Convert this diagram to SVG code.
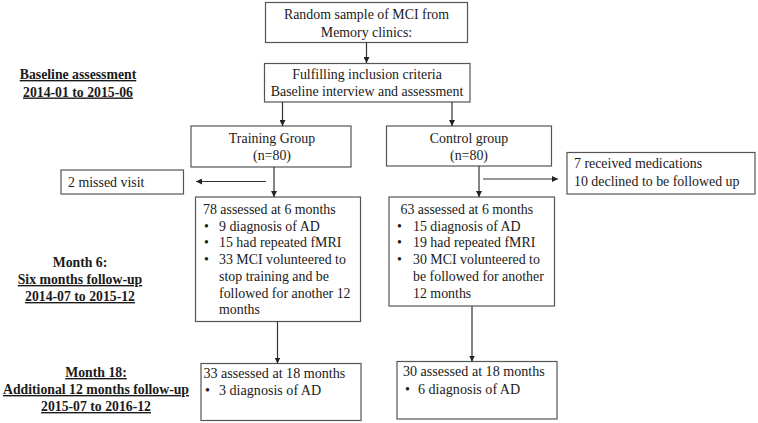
<svg xmlns="http://www.w3.org/2000/svg" width="758" height="423" viewBox="0 0 758 423" font-family="Liberation Serif, Times New Roman, serif">
<style>
  .box{fill:#fff;stroke:#555;stroke-width:1.2}
  text{font-size:13.9px;fill:#1a1a1a}
  .c{text-anchor:middle}
  .lab{font-weight:bold;font-size:13.75px;text-anchor:middle}
  .u{text-decoration:underline}
  .sm{font-size:14.1px}
  .conn line{stroke:#333;stroke-width:1.2}
</style>
<defs>
  <marker id="ah" viewBox="0 0 8 8" refX="8" refY="4" markerWidth="6" markerHeight="6" orient="auto" markerUnits="userSpaceOnUse">
    <path d="M0,0 L8,4 L0,8 Z" fill="#222"/>
  </marker>
</defs>
<rect width="758" height="423" fill="#fff"/>

<g id="label-baseline">
  <text class="lab u" x="78" y="79">Baseline assessment</text>
  <text class="lab u" x="78" y="96.5">2014-01 to 2015-06</text>
</g>
<g id="label-month6">
  <text class="lab" x="80" y="267">Month 6:</text>
  <text class="lab u" x="80" y="284">Six months follow-up</text>
  <text class="lab u" x="80" y="301">2014-07 to 2015-12</text>
</g>
<g id="label-month18">
  <text class="lab u" x="96" y="377">Month 18:</text>
  <text class="lab u" x="96" y="394">Additional 12 months follow-up</text>
  <text class="lab u" x="96" y="411">2015-07 to 2016-12</text>
</g>

<g id="n-random">
  <rect class="box" x="265.5" y="2.5" width="202" height="40"/>
  <text class="c" x="366.5" y="18.5">Random sample of MCI from</text>
  <text class="c" x="366.5" y="36.5">Memory clinics:</text>
</g>
<g id="n-inclusion">
  <rect class="box" x="264.5" y="63.5" width="205.5" height="38.5"/>
  <text class="c" x="367" y="78.5">Fulfilling inclusion criteria</text>
  <text class="c" x="367" y="95.5">Baseline interview and assessment</text>
</g>
<g id="n-training">
  <rect class="box" x="191" y="126" width="160" height="41"/>
  <text class="c" x="272" y="143">Training Group</text>
  <text class="c" x="272" y="160">(n=80)</text>
</g>
<g id="n-control">
  <rect class="box" x="386.5" y="126" width="165" height="40"/>
  <text class="c" x="469" y="143">Control group</text>
  <text class="c" x="469" y="160">(n=80)</text>
</g>
<g id="n-missed">
  <rect class="box" x="61" y="170" width="122.5" height="24"/>
  <text x="68" y="186.5">2 missed visit</text>
</g>
<g id="n-medications">
  <rect class="box" x="567" y="152.5" width="188" height="41.5"/>
  <text x="574" y="168">7 received medications</text>
  <text x="574" y="186">10 declined to be followed up</text>
</g>
<g id="n-train6">
  <rect class="box" x="195.5" y="197" width="165" height="124.5"/>
  <text x="203" y="214">78 assessed at 6 months</text>
  <text x="204" y="230.7">•</text><text x="219" y="230.7">9 diagnosis of AD</text>
  <text x="204" y="247.4">•</text><text x="219" y="247.4">15 had repeated fMRI</text>
  <text x="204" y="264.1">•</text><text x="219" y="264.1">33 MCI volunteered to</text>
  <text x="219" y="280.8">stop training and be</text>
  <text x="219" y="297.5">followed for another 12</text>
  <text x="219" y="314">months</text>
</g>
<g id="n-control6">
  <rect class="box" x="389" y="197" width="165.5" height="109"/>
  <text x="400.5" y="214">63 assessed at 6 months</text>
  <text x="397" y="230.7">•</text><text x="413" y="230.7">15 diagnosis of AD</text>
  <text x="397" y="247.4">•</text><text x="413" y="247.4">19 had repeated fMRI</text>
  <text x="397" y="264.1">•</text><text x="413" y="264.1">30 MCI volunteered to</text>
  <text x="413" y="280.8">be followed for another</text>
  <text x="413" y="297.5">12 months</text>
</g>
<g id="n-train18">
  <rect class="box" x="201" y="363.5" width="160" height="57"/>
  <text class="sm" x="203.5" y="377.5">33 assessed at 18 months</text>
  <text class="sm" x="205" y="395">•</text><text class="sm" x="219" y="395">3 diagnosis of AD</text>
</g>
<g id="n-control18">
  <rect class="box" x="397" y="361.5" width="160" height="57.5"/>
  <text class="sm" x="403" y="376">30 assessed at 18 months</text>
  <text class="sm" x="405" y="393.5">•</text><text class="sm" x="418" y="393.5">6 diagnosis of AD</text>
</g>

<g class="conn" id="connectors">
  <line x1="366.5" y1="42.5" x2="366.5" y2="63" marker-end="url(#ah)"/>
  <line x1="282.5" y1="102" x2="282.5" y2="126" marker-end="url(#ah)"/>
  <line x1="452" y1="102" x2="452" y2="126" marker-end="url(#ah)"/>
  <line x1="274" y1="167" x2="274" y2="197" marker-end="url(#ah)"/>
  <line x1="266" y1="181.5" x2="196" y2="181.5" marker-end="url(#ah)"/>
  <line x1="479" y1="166" x2="479" y2="197" marker-end="url(#ah)"/>
  <line x1="483" y1="179" x2="558" y2="179" marker-end="url(#ah)"/>
  <line x1="277.5" y1="321.5" x2="277.5" y2="363.5" marker-end="url(#ah)"/>
  <line x1="472" y1="306" x2="472" y2="361.5" marker-end="url(#ah)"/>
</g>
</svg>
